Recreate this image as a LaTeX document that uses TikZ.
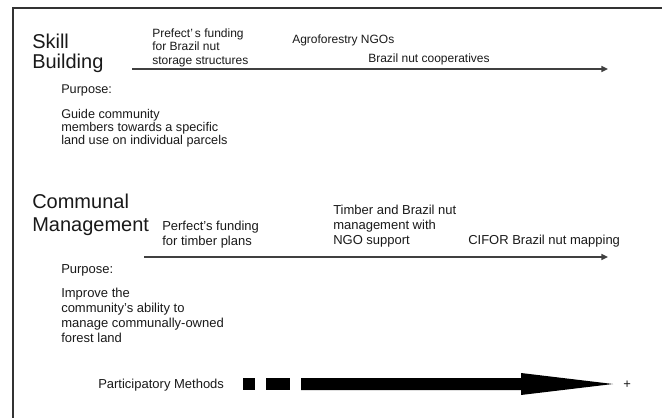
\documentclass[tikz,border=0pt]{standalone}
\usepackage{fontspec}
\setmainfont{Liberation Sans}
\usetikzlibrary{arrows.meta}
\begin{document}
\begin{tikzpicture}[x=0.75pt,y=-0.75pt,
  borderline/.style={draw=black!80, line width=0.9pt},
  timeline/.style={draw=black!75, line width=1.1pt, -{Triangle[length=5pt,width=4.5pt]}},
  heading/.style={anchor=base west, inner sep=0pt, align=left, text=black!90},
  evtA/.style={anchor=base west, inner sep=0pt, align=left, text=black!90, font=\fontsize{9}{10.1}\selectfont},
  evtB/.style={anchor=base west, inner sep=0pt, align=left, text=black!90, font=\fontsize{9.75}{11.25}\selectfont},
  descA/.style={anchor=base west, inner sep=0pt, align=left, text=black!90, font=\fontsize{9.5}{9.75}\selectfont},
  descB/.style={anchor=base west, inner sep=0pt, align=left, text=black!90, font=\fontsize{9.75}{11.25}\selectfont},
  methbox/.style={fill=black}
]
\useasboundingbox (0,0) rectangle (662,418);
% frame
\coordinate (ftr) at (662,8);
\coordinate (ftl) at (13,8);
\coordinate (fbl) at (13,418);
\draw[borderline] (ftr) -- (ftl) -- (fbl);

% Skill Building (base anchor = last line baseline)
\node[heading, font=\fontsize{15}{15}\selectfont] (skill) at (32,68) {Skill\\Building};
\coordinate (a1s) at (132,69);
\coordinate (a1e) at (608,69);
\draw[timeline] (a1s) -- (a1e);
\node[evtA] (prefect) at (152,64) {Prefect’\,s funding\\for Brazil nut\\storage structures};
\node[evtA] (agro) at (292,43) {Agroforestry NGOs};
\node[evtA] (coop) at (368,62) {Brazil nut cooperatives};
\node[descA] (purp1) at (61,93) {Purpose:};
\node[descA] (guide) at (61,144) {Guide community\\members towards a specific\\land use on individual parcels};

% Communal Management
\node[heading, font=\fontsize{15}{17.25}\selectfont] (comm) at (32,231) {Communal\\Management};
\coordinate (a2s) at (144,257);
\coordinate (a2e) at (608,257);
\draw[timeline] (a2s) -- (a2e);
\node[evtB] (perfect) at (162,245) {Perfect's funding\\for timber plans};
\node[evtB] (timber) at (333,244) {Timber and Brazil nut\\management with\\NGO support};
\node[evtB] (cifor) at (468,244) {CIFOR Brazil nut mapping};
\node[descB] (purp2) at (61,273) {Purpose:};
\node[descB] (improve) at (61,342) {Improve the\\community's ability to\\manage communally-owned\\forest land};

% Participatory methods
\node[descB] (partic) at (98,388.5) {Participatory Methods};
\fill[methbox] (243,378) rectangle (255,390);
\fill[methbox] (266,378) rectangle (290,390);
\fill[methbox] (301,378) -- (521,378) -- (521,373) -- (613,384) -- (521,395) -- (521,390) -- (301,390) -- cycle;
\node[descB] (plus) at (623,388.5) {+};
\end{tikzpicture}
\end{document}
